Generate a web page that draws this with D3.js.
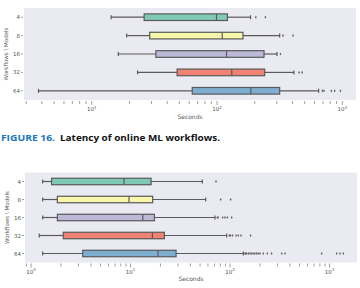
<!DOCTYPE html>
<html>
<head>
<meta charset="utf-8">
<script src="https://cdn.jsdelivr.net/npm/d3@7"></script>
<style>
  html, body { margin: 0; padding: 0; background: #fff; }
  svg { display: block; font-family: "DejaVu Sans", sans-serif; }
</style>
</head>
<body>
<svg id="chart" width="360" height="288"></svg>
<script>
// workflow counts, one box per row
const categories = ["4", "8", "16", "32", "64"];
const boxColors = ["#7fcab5", "#f7f7ab", "#bbb8d8", "#ef8272", "#7fafd0"];

// online latency (seconds), top chart
const onlineLow = [14.3, 19, 16.3, 23.2, 3.76];
const onlineQ1 = [26.2, 29, 32.5, 48, 63.4];
const onlineMedian = [99, 110, 119, 131, 186];
const onlineQ3 = [121, 161, 237, 240, 316];
const onlineHigh = [185, 316, 301, 411, 647];
const onlineOutliers = [
  [204, 243],
  [336, 404],
  [321],
  [451, 477],
  [693, 713, 817, 868, 964]
];
const onlineDomain = [2.88, 1285];

// second chart (batch latency)
const batchLow = [1.31, 1.31, 1.31, 1.21, 1.31];
const batchQ1 = [1.61, 1.84, 1.84, 2.11, 3.31];
const batchMedian = [8.6, 9.66, 13.3, 16.6, 18.9];
const batchQ3 = [16.1, 16.7, 17.4, 21.9, 28.7];
const batchHigh = [52.7, 57, 70.7, 92.6, 136];
const batchOutliers = [
  [72.3],
  [80.6, 101.6],
  [74.5, 76, 84.5, 89, 94, 104],
  [98.4, 101, 106, 115, 121, 129, 161],
  [141.5, 144, 147, 153, 159, 165, 171, 178, 185, 192, 200, 216, 237, 262, 331, 357, 835, 1181, 1276, 1377]
];
const batchDomain = [0.87, 1890];

const svg = d3.select("#chart");
const lineColor = "#5a5a5a";

function drawBoxChart(box, stats, domain) {
  const g = svg.append("g");

  g.append("rect")
    .attr("x", box.left)
    .attr("y", box.top)
    .attr("width", box.right - box.left)
    .attr("height", box.bottom - box.top)
    .attr("fill", "#eaeaf2");

  const x = d3.scaleLog().domain(domain).range([box.left, box.right]);
  const y = d3.scaleBand().domain(categories).range([box.top, box.bottom]);
  const boxH = y.bandwidth() * 0.36;

  // x axis, log ticks with minor marks
  const ticks = x.ticks().filter(t => t >= domain[0] && t <= domain[1]);
  const isMajor = t => Math.abs(Math.log10(t) - Math.round(Math.log10(t))) < 1e-9;
  const axis = g.append("g").attr("transform", `translate(0,${box.bottom})`);
  axis.selectAll("line")
    .data(ticks)
    .join("line")
    .attr("x1", d => x(d)).attr("x2", d => x(d))
    .attr("y1", 1).attr("y2", d => isMajor(d) ? 5 : 4)
    .attr("stroke", "#777")
    .attr("stroke-width", 0.7);

  const majors = axis.selectAll("text")
    .data(ticks.filter(isMajor))
    .join("text")
    .attr("x", d => x(d))
    .attr("y", 11)
    .attr("text-anchor", "middle")
    .attr("fill", "#555")
    .style("font-size", "5.5px");
  majors.append("tspan").text("10");
  majors.append("tspan")
    .attr("dy", -2.5)
    .style("font-size", "4px")
    .text(d => Math.round(Math.log10(d)));

  g.append("text")
    .attr("x", (box.left + box.right) / 2)
    .attr("y", box.bottom + 18.5)
    .attr("text-anchor", "middle")
    .attr("fill", "#555")
    .style("font-size", "6px")
    .text("Seconds");

  // y axis
  const yAxis = g.append("g");
  yAxis.selectAll("line")
    .data(categories)
    .join("line")
    .attr("x1", box.left - 3).attr("x2", box.left - 1)
    .attr("y1", d => y(d) + y.bandwidth() / 2)
    .attr("y2", d => y(d) + y.bandwidth() / 2)
    .attr("stroke", "#777")
    .attr("stroke-width", 0.7);
  yAxis.selectAll("text")
    .data(categories)
    .join("text")
    .attr("x", box.left - 4)
    .attr("y", d => y(d) + y.bandwidth() / 2 + 2)
    .attr("text-anchor", "end")
    .attr("fill", "#555")
    .style("font-size", "5.5px")
    .text(d => d);

  const cy = (box.top + box.bottom) / 2;
  g.append("text")
    .attr("transform", `translate(${box.left - 16},${cy}) rotate(-90)`)
    .attr("text-anchor", "middle")
    .attr("fill", "#555")
    .style("font-size", "5.5px")
    .text("Workflows \\ Models");

  // boxes
  categories.forEach((c, i) => {
    const mid = y(c) + y.bandwidth() / 2;
    const row = g.append("g");

    row.append("line")
      .attr("x1", x(stats.low[i])).attr("x2", x(stats.q1[i]))
      .attr("y1", mid).attr("y2", mid)
      .attr("stroke", lineColor).attr("stroke-width", 1.2);
    row.append("line")
      .attr("x1", x(stats.q3[i])).attr("x2", x(stats.high[i]))
      .attr("y1", mid).attr("y2", mid)
      .attr("stroke", lineColor).attr("stroke-width", 1.2);
    [stats.low[i], stats.high[i]].forEach(v => {
      row.append("line")
        .attr("x1", x(v)).attr("x2", x(v))
        .attr("y1", mid - boxH * 0.3).attr("y2", mid + boxH * 0.3)
        .attr("stroke", lineColor).attr("stroke-width", 1.2);
    });

    row.append("rect")
      .attr("x", x(stats.q1[i]))
      .attr("y", mid - boxH / 2)
      .attr("width", x(stats.q3[i]) - x(stats.q1[i]))
      .attr("height", boxH)
      .attr("fill", boxColors[i])
      .attr("stroke", lineColor)
      .attr("stroke-width", 1.2);

    row.append("line")
      .attr("x1", x(stats.median[i])).attr("x2", x(stats.median[i]))
      .attr("y1", mid - boxH / 2).attr("y2", mid + boxH / 2)
      .attr("stroke", lineColor).attr("stroke-width", 1.2);

    row.selectAll("path")
      .data(stats.outliers[i])
      .join("path")
      .attr("d", d3.symbol(d3.symbolDiamond, 3))
      .attr("transform", d => `translate(${x(d)},${mid})`)
      .attr("fill", "#666");
  });
}

drawBoxChart(
  { left: 24, right: 356, top: 8, bottom: 100 },
  { low: onlineLow, q1: onlineQ1, median: onlineMedian, q3: onlineQ3, high: onlineHigh, outliers: onlineOutliers },
  onlineDomain
);

drawBoxChart(
  { left: 25, right: 357, top: 172.5, bottom: 262.5 },
  { low: batchLow, q1: batchQ1, median: batchMedian, q3: batchQ3, high: batchHigh, outliers: batchOutliers },
  batchDomain
);

// caption under the first chart
const caption = svg.append("g")
  .style("font-family", "'Open Sans', 'DejaVu Sans', sans-serif")
  .style("font-weight", "bold")
  .style("font-size", "9.5px");
caption.append("text")
  .attr("x", 1).attr("y", 140.7)
  .attr("fill", "#1b75bb")
  .attr("textLength", 54)
  .attr("lengthAdjust", "spacingAndGlyphs")
  .text("FIGURE 16.");
caption.append("text")
  .attr("x", 60).attr("y", 140.7)
  .attr("fill", "#111")
  .attr("textLength", 160)
  .attr("lengthAdjust", "spacingAndGlyphs")
  .text("Latency of online ML workflows.");
</script>
</body>
</html>
